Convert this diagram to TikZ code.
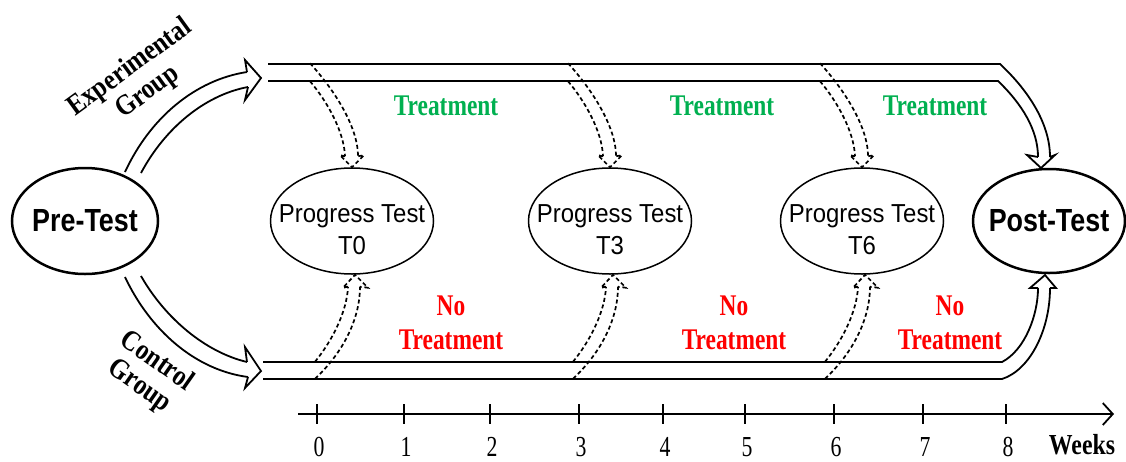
\documentclass[tikz,border=0pt]{standalone}
\usepackage{fontspec}
\setmainfont{Liberation Serif}
\setsansfont{Liberation Sans}
\usetikzlibrary{shapes.geometric,arrows.meta,calc}
\definecolor{tgreen}{RGB}{0,176,80}
\definecolor{tred}{RGB}{255,0,0}
\newcommand\hs[2]{\scalebox{#1}[1]{#2}}
\newcommand\dtop[1]{%
  \begin{scope}[shift={(#1.north)}]
    \draw[dsh] (-42,-104) .. controls (-20,-80) and (6,-42) .. (6,-11);
    \draw[dsh] (-42,-86) .. controls (-25,-66) and (-8,-36) .. (-7,-11);
    \draw[dsh,line join=miter] (-7,-11) -- (-12,-12) -- (0,0) -- (12,-12) -- (6,-11);
  \end{scope}}
\newcommand\dbot[1]{%
  \begin{scope}[shift={($(#1.south)+(3,0)$)}]
    \draw[dsh] (-40,87) .. controls (-22,65) and (-8,36) .. (-7,12);
    \draw[dsh] (-40,104) .. controls (-10,76) and (5,42) .. (5,12);
    \draw[dsh,line join=miter] (-7,12) -- (-12,13) -- (0,0) -- (13,13) -- (5,12);
  \end{scope}}
\begin{document}
\begin{tikzpicture}[x=1pt,y=-1pt,
  ell/.style={ellipse, draw, line width=1.5pt, inner sep=0pt, minimum width=163pt, minimum height=106pt},
  bigell/.style={ellipse, draw, line width=2.5pt, inner sep=0pt},
  hollow/.style={line width=1.8pt},
  headline/.style={line width=1.8pt, line join=miter},
  dsh/.style={line width=1.7pt, dash pattern=on 4pt off 2.8pt},
  bigtxt/.style={font=\fontsize{32}{34}\selectfont\sffamily\bfseries},
  ptxt/.style={font=\fontsize{26}{32}\selectfont\sffamily, align=center, inner sep=0pt},
  grp/.style={font=\fontsize{29}{30}\selectfont\bfseries, align=center, inner sep=0pt},
  trt/.style={font=\fontsize{30}{34}\selectfont\bfseries, align=center, inner sep=0pt},
  num/.style={font=\fontsize{29}{30}\selectfont, inner sep=0pt}
]
\useasboundingbox (0,0) rectangle (1126,461);

% main nodes
\node[bigell, minimum width=146pt, minimum height=106pt] (pre) at (85,221) {};
\node[bigtxt] (pretxt) at (pre.center) {\hs{0.84}{Pre-Test}};
\node[bigell, minimum width=152pt, minimum height=104pt] (post) at (1049,221) {};
\node[bigtxt] (posttxt) at (post.center) {\hs{0.84}{Post-Test}};

\node[ell] (t0) at (352,221) {};
\node[ell] (t3) at (610,221) {};
\node[ell] (t6) at (862,221) {};
\node[ptxt] (t0l) at ($(t0.center)+(0,9)$) {\hs{0.92}{Progress Test}\\\hs{0.92}{T0}};
\node[ptxt] (t3l) at ($(t3.center)+(0,9)$) {\hs{0.92}{Progress Test}\\\hs{0.92}{T3}};
\node[ptxt] (t6l) at ($(t6.center)+(0,9)$) {\hs{0.92}{Progress Test}\\\hs{0.92}{T6}};

% group labels
\node[grp, rotate=36] (eg) at (139,80) {\hs{0.86}{Experimental}\\\hs{0.86}{Group}};
\node[grp, rotate=-35] (cg) at (148,374) {\hs{0.86}{Control}\\\hs{0.86}{Group}};

% treatment labels
\node[trt, text=tgreen] (tr1) at (446,106) {\hs{0.78}{Treatment}};
\node[trt, text=tgreen] (tr2) at (722,106) {\hs{0.78}{Treatment}};
\node[trt, text=tgreen] (tr3) at (935,106) {\hs{0.78}{Treatment}};
\node[trt, text=tred] (nt1) at (451,323) {\hs{0.78}{No}\\\hs{0.78}{Treatment}};
\node[trt, text=tred] (nt2) at (734,323) {\hs{0.78}{No}\\\hs{0.78}{Treatment}};
\node[trt, text=tred] (nt3) at (950,323) {\hs{0.78}{No}\\\hs{0.78}{Treatment}};

% Pre-Test -> Experimental group (hollow curved arrow)
\draw[hollow] (125,172) .. controls (150,118) and (195,80) .. (247,72);
\draw[hollow] (141,173) .. controls (165,128) and (205,95) .. (248,87);
\draw[headline] (247,72) -- (245,60) -- (261,78) -- (245,100) -- (248,87);

% Pre-Test -> Control group
\draw[hollow] (141,276) .. controls (165,318) and (205,352) .. (247,362);
\draw[hollow] (125,277) .. controls (150,330) and (195,370) .. (248,377);
\draw[headline] (247,362) -- (245,347) -- (261,371) -- (245,388) -- (248,377);

% experimental track -> Post-Test
\draw[hollow] (268,64) -- (1000,64) .. controls (1030,92) and (1050,125) .. (1050,157);
\draw[hollow] (268,81) -- (998,81) .. controls (1022,104) and (1038,130) .. (1038,157);
\draw[headline] (1038,157) -- (1027,155) -- (1041,168) -- (1055,155) -- (1050,157);

% control track -> Post-Test
\draw[hollow] (263,362) -- (1002,362) .. controls (1025,350) and (1038,315) .. (1038,288);
\draw[hollow] (263,379) -- (1002,379) .. controls (1030,370) and (1050,330) .. (1050,288);
\draw[headline] (1038,288) -- (1030,288) -- (1045,275) -- (1056,288) -- (1050,288);

% dashed double arrows to progress tests
\dtop{t0}\dtop{t3}\dtop{t6}
\dbot{t0}\dbot{t3}\dbot{t6}

% time axis
\coordinate (ax0) at (298,414);
\coordinate (ax1) at (1114,414);
\draw[line width=1.8pt, -{Straight Barb[length=10pt,width=22pt,line width=1.8pt]}] (ax0) -- (ax1);
\foreach \x/\n in {317/0,404/1,490/2,579/3,663/4,745/5,834/6,923/7,1006/8}{
  \draw[line width=1.3pt] (\x,404) -- (\x,424);
  \node[num] (wk\n) at (\x+2,447) {\hs{0.75}{\n}};
}
\node[num, font=\fontsize{29}{30}\selectfont\bfseries] (weeks) at (1082,445) {\hs{0.82}{Weeks}};
\end{tikzpicture}
\end{document}
